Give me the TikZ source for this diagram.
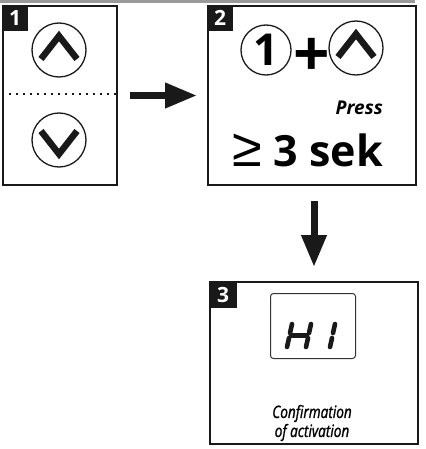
\documentclass[tikz,border=0pt]{standalone}
\usepackage{fontspec}
\setmainfont{Open Sans}
\newfontfamily\geqfont{Liberation Sans}
\newfontfamily\noteFont[FakeStretch=0.8,FakeBold=1.2]{Open Sans}
\usetikzlibrary{arrows.meta,positioning}
\tikzset{
 panel/.style={draw=black!90,line width=2pt,inner sep=0pt,anchor=north west},
 panel tag/.style={fill=black!90,text=white,inner sep=0pt,anchor=north west,
                   font=\bfseries\fontsize{21}{21}\selectfont,
                   minimum width=26pt,minimum height=26pt},
 key ring/.style={draw=black!90,circle,line width=1.3pt,inner sep=0pt,minimum size=54pt},
 chevron/.style={line width=6.5pt,black!90,line join=miter},
 flow arrow/.style={line width=7pt,black!90,-{Triangle[length=32pt,width=24pt]}},
 seg/.style={line width=4.6pt,line cap=round,black!90}
}

\begin{document}
\begin{tikzpicture}[x=1pt,y=-1pt]
 \useasboundingbox (0,0) rectangle (425,449);
 \fill[black!40] (0,0) rectangle (415,3);

 % panels
 \node[panel,minimum width=114pt,minimum height=179pt] (p1) at (2,5) {};
 \node[panel,minimum width=208pt,minimum height=179pt] (p2) at (207,5) {};
 \node[panel,minimum width=208pt,minimum height=162pt] (p3) at (209,281) {};
 \node[panel tag] (t1) at (p1.north west) {1};
 \node[panel tag] (t2) at (p2.north west) {2};
 \node[panel tag,minimum width=28pt,minimum height=27pt] (t3) at (p3.north west) {3};

 % panel 1
 \node[key ring] (up) at (59,50) {};
 \node[key ring] (down) at (59,140) {};
 \draw[chevron] ([shift={(-18,9)}]up.center) -- ([shift={(0,-14)}]up.center)
   -- ([shift={(18,9)}]up.center);
 \draw[chevron] ([shift={(-18,-9)}]down.center) -- ([shift={(0,14)}]down.center)
   -- ([shift={(18,-9)}]down.center);
 \draw[line width=2.4pt,dash pattern=on 2.4pt off 4.6pt,black!90] (2,94) -- (118,94);

 % panel 2
 \node[key ring,minimum size=50pt,font=\bfseries\fontsize{44}{44}\selectfont] (one) at (266,50) {1};
 \node[font=\bfseries\fontsize{64}{64}\selectfont,inner sep=0pt] (plus) at (312,57) {+};
 \node[key ring] (up2) at (356,48) {};
 \draw[chevron] ([shift={(-18,9)}]up2.center) -- ([shift={(0,-14)}]up2.center)
   -- ([shift={(18,9)}]up2.center);
 \node[anchor=base east,inner sep=0pt,font=\bfseries\itshape\fontsize{19}{19}\selectfont]
   (press) at (383,115) {Press};
 \node[anchor=base east,inner sep=0pt,font=\bfseries\fontsize{43}{43}\selectfont]
   (hold) at (383,166) {{\geqfont\mdseries\fontsize{54}{54}\selectfont ≥}\hspace{12pt}3 sek};

 % panel 3
 \node[panel,draw=black!80,line width=1pt,rounded corners=3pt,
       minimum width=85pt,minimum height=65pt] (disp) at (270,293) {};
 \draw[seg] (292,324) -- (290,333) (289,338) -- (287,347);
 \draw[seg] (311,324) -- (309,333) (308,338) -- (306,347);
 \draw[seg] (291,335.5) -- (307,335.5);
 \draw[seg] (335,324) -- (333,333) (332,338) -- (330,347);
 \node[font=\noteFont\itshape\fontsize{17}{19}\selectfont,align=center,inner sep=0pt]
   (note) at (312,423) {Confirmation\\of activation};

 % flow
 \draw[flow arrow,shorten <=12pt,shorten >=10pt] (p1.east) -- (p2.west);
 \draw[flow arrow,shorten <=15pt,shorten >=14pt] ([xshift=2pt]p2.south)
   -- ([xshift=2pt]p2.south |- p3.north);
\end{tikzpicture}
\end{document}
